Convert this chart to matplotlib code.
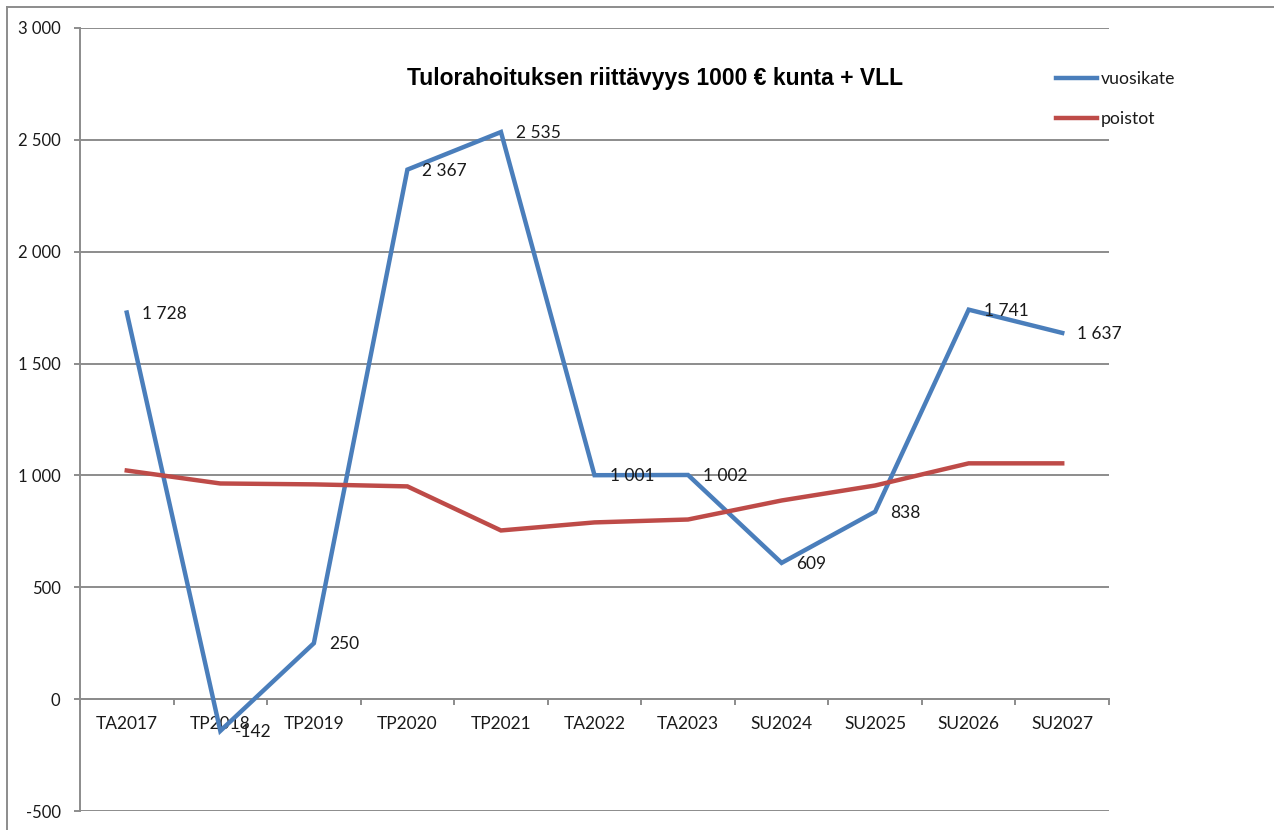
import matplotlib.pyplot as plt
from matplotlib.lines import Line2D

categories = ['TA2017', 'TP2018', 'TP2019', 'TP2020', 'TP2021', 'TA2022',
              'TA2023', 'SU2024', 'SU2025', 'SU2026', 'SU2027']
vuosikate = [1728, -142, 250, 2367, 2535, 1001, 1002, 609, 838, 1741, 1637]
poistot = [1022, 964, 960, 951, 754, 790, 803, 888, 955, 1054, 1054]
yticks = [-500, 0, 500, 1000, 1500, 2000, 2500, 3000]

blue = '#4A7EBB'
red = '#BE4B48'
grid_col = '#8C8C8C'
txt_col = '#1A1A1A'
W, H = 1274, 830

plt.rcParams['font.family'] = ['Lato', 'DejaVu Sans']

fig = plt.figure(figsize=(W / 100, H / 100), dpi=100)
ax = fig.add_axes([80 / W, 1 - 811 / H, (1109 - 80) / W, (811 - 28) / H])

x = list(range(len(categories)))
ax.plot(x, vuosikate, color=blue, lw=3.2, label='vuosikate', solid_joinstyle='miter', zorder=3)
ax.plot(x, poistot, color=red, lw=3.2, label='poistot', solid_joinstyle='miter', zorder=3)

def fmt(v):
    return f'{v:,}'.replace(',', ' ')

for xi, v in zip(x, vuosikate):
    ax.annotate(fmt(v), (xi, v), xytext=(15, -1), textcoords='offset pixels',
                ha='left', va='center', fontsize=12.5, color=txt_col, zorder=4)

ax.set_xlim(-0.5, len(categories) - 0.5)
ax.set_ylim(-500, 3000)
ax.set_yticks(yticks)
ax.set_yticklabels([fmt(t) for t in yticks])
ax.yaxis.grid(True, color=grid_col, lw=1.4)
ax.set_axisbelow(True)

# x axis sits on zero line
ax.spines['bottom'].set_position(('data', 0))
ax.spines['bottom'].set_color(grid_col)
ax.spines['bottom'].set_linewidth(1.4)
ax.spines['left'].set_color(grid_col)
ax.spines['left'].set_linewidth(1.4)
ax.spines['top'].set_visible(False)
ax.spines['right'].set_visible(False)

ax.set_xticks([i - 0.5 for i in range(len(categories) + 1)])
ax.set_xticklabels([])
ax.set_xticks(x, minor=True)
ax.set_xticklabels(categories, minor=True)
ax.tick_params(axis='x', which='major', length=4, width=1.4, color=grid_col, direction='out')
ax.tick_params(axis='x', which='minor', length=0, pad=12, labelsize=12.5, labelcolor=txt_col)
ax.tick_params(axis='y', length=4, width=1.4, color=grid_col, pad=10,
               labelsize=12, labelcolor=txt_col)

fig.text(655 / W, 1 - 78 / H, 'Tulorahoituksen riittävyys 1000 € kunta + VLL',
         ha='center', va='center', fontsize=16.5, fontweight='bold',
         family='Liberation Sans', color='black')

fig.legend(loc='upper left', bbox_to_anchor=(1056 / W, 1 - 71 / H), frameon=False,
           fontsize=12.7, handlelength=2.3, handletextpad=0.25, labelspacing=1.35,
           borderpad=0, borderaxespad=0, labelcolor=txt_col)

# outer chart frame (only top/left edges visible)
fig.add_artist(Line2D([7 / W, 1], [1 - 7 / H, 1 - 7 / H], color=grid_col, lw=1.4,
                      transform=fig.transFigure))
fig.add_artist(Line2D([7 / W, 7 / W], [0, 1 - 7 / H], color=grid_col, lw=1.4,
                      transform=fig.transFigure))

fig.savefig('out.png', dpi=100)
